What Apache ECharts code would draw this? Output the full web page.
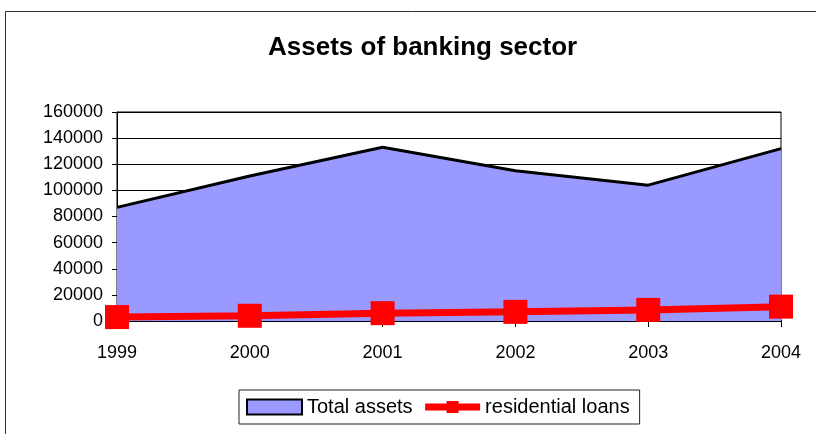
<!DOCTYPE html>
<html>
<head>
<meta charset="utf-8">
<script src="https://cdn.jsdelivr.net/npm/echarts@6/dist/echarts.min.js"></script>
<style>
  html, body { margin: 0; padding: 0; background: #fff; }
  #chart { width: 816px; height: 434px; }
</style>
</head>
<body>
<div id="chart"></div>
<script>
// Years on the category axis
const years = ['1999', '2000', '2001', '2002', '2003', '2004'];
// Total assets of the banking sector
const totalAssets = [87000, 111000, 133000, 115000, 104000, 132000];
// Residential loans
const residentialLoans = [3000, 4000, 6000, 7000, 8500, 11000];

const chart = echarts.init(document.getElementById('chart'));
const font = 'Liberation Sans, Arial, sans-serif';

chart.setOption({
  animation: false,
  backgroundColor: '#fff',
  title: {
    text: 'Assets of banking sector',
    left: 263,
    top: 30,
    textStyle: { fontFamily: font, fontSize: 26, fontWeight: 'bold', color: '#000' }
  },
  graphic: [{
    type: 'rect',
    shape: { x: 5.5, y: 11.5, width: 840, height: 440 },
    style: { fill: null, stroke: '#333', lineWidth: 1 },
    silent: true,
    z: -10
  }],
  legend: {
    left: 239,
    top: 390,
    padding: [7, 10, 7, 7],
    itemGap: 9,
    itemWidth: 55,
    itemHeight: 15,
    borderColor: '#222',
    borderWidth: 1,
    lineStyle: { width: 7 },
    textStyle: { fontFamily: font, fontSize: 20, color: '#000' },
    data: [
      { name: 'Total assets', icon: 'rect', itemStyle: { color: '#9999ff', borderColor: '#000', borderWidth: 2 } },
      { name: 'residential loans' }
    ]
  },
  grid: {
    left: 117, right: 35, top: 112, bottom: 113,
    show: true, borderColor: '#000', borderWidth: 1, backgroundColor: '#fff'
  },
  xAxis: {
    type: 'category',
    data: years,
    boundaryGap: false,
    axisLine: { lineStyle: { color: '#000', width: 2 } },
    axisTick: { show: true, length: 6, lineStyle: { color: '#000' } },
    axisLabel: { fontFamily: font, fontSize: 18, color: '#000', margin: 23 },
    splitLine: { show: false }
  },
  yAxis: {
    type: 'value',
    min: 0, max: 160000, interval: 20000,
    axisLine: { show: true, lineStyle: { color: '#000', width: 1 } },
    axisTick: { show: true, length: 5, lineStyle: { color: '#000' } },
    axisLabel: {
      fontFamily: font, fontSize: 18, color: '#000', margin: 14,
      formatter: v => String(v)
    },
    splitLine: { show: true, lineStyle: { color: '#000', width: 1 } }
  },
  series: [
    {
      name: 'Total assets',
      type: 'line',
      data: totalAssets,
      symbol: 'none',
      lineStyle: { color: '#000', width: 3 },
      itemStyle: { color: '#9999ff', borderColor: '#000' },
      areaStyle: { color: '#9999ff', opacity: 1 },
      z: 2
    },
    {
      name: 'residential loans',
      type: 'line',
      data: residentialLoans,
      symbol: 'rect',
      symbolSize: 24,
      lineStyle: { color: '#ff0000', width: 7 },
      itemStyle: { color: '#ff0000', borderColor: '#ff0000', borderWidth: 0 },
      clip: false,
      z: 3
    }
  ]
});
</script>
</body>
</html>
